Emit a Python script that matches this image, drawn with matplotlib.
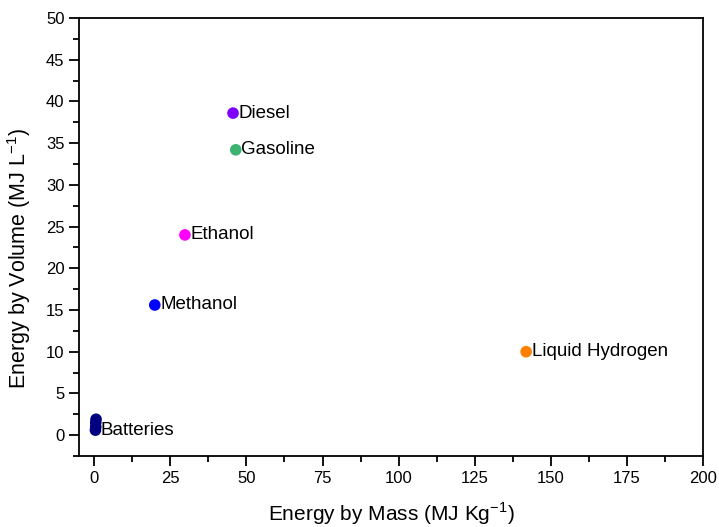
import matplotlib
matplotlib.use("Agg")
import matplotlib.pyplot as plt
from matplotlib.ticker import MultipleLocator

plt.rcParams['font.family'] = ['Liberation Sans', 'DejaVu Sans']

# Energy density of fuels
fuels = ["Diesel", "Gasoline", "Ethanol", "Methanol", "Liquid Hydrogen"]
mass_energy = [45.6, 46.5, 29.8, 19.9, 141.9]      # MJ/kg
volume_energy = [38.6, 34.2, 24.0, 15.6, 10.0]     # MJ/L
fuel_colors = ["#8000ff", "#3cb371", "#ff00ff", "#0000ff", "#ff8000"]

# Battery chemistries
battery_mass = [0.4, 0.5, 0.5, 0.6]
battery_volume = [0.6, 1.0, 1.5, 1.9]
battery_color = "#000080"

fig = plt.figure(figsize=(7.19, 5.27), dpi=100)
ax = fig.add_axes([79/719, 1 - 456/527, (703-79)/719, (456-18)/527])

for name, xm, yv, c in zip(fuels, mass_energy, volume_energy, fuel_colors):
    ax.scatter(xm, yv, s=70, color=c, edgecolors='none', zorder=3)
    ax.annotate(name, (xm, yv), xytext=(4, 0), textcoords='offset points',
                va='center', ha='left', fontsize=13.5)

ax.scatter(battery_mass, battery_volume, s=70, color=battery_color,
           edgecolors='none', zorder=3)
ax.annotate("Batteries", (battery_mass[0], battery_volume[0]), xytext=(4, 0),
            textcoords='offset points', va='center', ha='left', fontsize=13.5)

ax.set_xlim(-5, 200)
ax.set_ylim(-2.5, 50)
ax.xaxis.set_major_locator(MultipleLocator(25))
ax.xaxis.set_minor_locator(MultipleLocator(12.5))
ax.yaxis.set_major_locator(MultipleLocator(5))
ax.yaxis.set_minor_locator(MultipleLocator(2.5))
ax.tick_params(which='major', direction='out', length=7, width=1.3, labelsize=12)
ax.tick_params(which='minor', direction='out', length=4, width=1.3)
for sp in ax.spines.values():
    sp.set_linewidth(1.3)

ax.set_xlabel("Energy by Mass (MJ Kg$^{\\mathregular{-1}}$)", fontsize=15, labelpad=11)
ax.set_ylabel("Energy by Volume (MJ L$^{\\mathregular{-1}}$)", fontsize=15.5)
ax.yaxis.set_label_coords(-0.073, 0.452)

fig.savefig("out.png", dpi=100)
